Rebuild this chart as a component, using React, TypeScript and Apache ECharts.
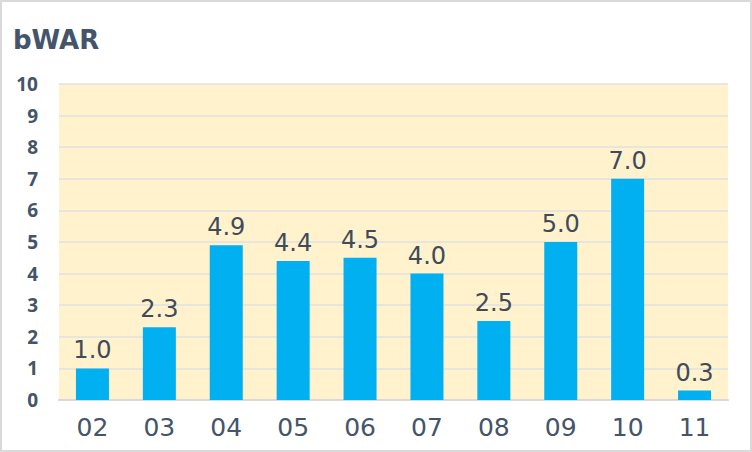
import React, { useEffect, useRef } from "react";
import * as echarts from "echarts";

const categories = ["02", "03", "04", "05", "06", "07", "08", "09", "10", "11"];
const bwarValues = [1.0, 2.3, 4.9, 4.4, 4.5, 4.0, 2.5, 5.0, 7.0, 0.3];
const yTicks = [0, 1, 2, 3, 4, 5, 6, 7, 8, 9, 10];

export default function App() {
  const ref = useRef<HTMLDivElement>(null);
  useEffect(() => {
    document.body.style.margin = "0";
    const chart = echarts.init(ref.current!, null, { renderer: "svg" });
    chart.setOption({
      animation: false,
      backgroundColor: "#ffffff",
      title: {
        text: "bWAR",
        left: 6,
        top: 20,
        textStyle: { fontFamily: "DejaVu Sans", fontSize: 26, fontWeight: "bold", color: "#44546A" },
      },
      grid: { left: 57, right: 22, top: 82, bottom: 50, show: true, backgroundColor: "#FFF2CC", borderWidth: 0 },
      xAxis: {
        type: "category",
        data: categories,
        axisLine: { show: true, lineStyle: { color: "#D9D9D9", width: 2 } },
        axisTick: { show: false },
        axisLabel: { fontFamily: "DejaVu Sans", fontSize: 25, color: "#44546A", margin: 15 },
      },
      yAxis: {
        type: "value",
        min: yTicks[0],
        max: yTicks[yTicks.length - 1],
        interval: 1,
        axisLine: { show: false },
        axisTick: { show: false },
        splitLine: { lineStyle: { color: "#E0E0E0", width: 1.5 } },
        axisLabel: { fontFamily: "Noto Sans", fontSize: 19, fontWeight: "bold", color: "#44546A", margin: 21 },
      },
      series: [
        {
          type: "bar",
          data: bwarValues,
          barWidth: 33,
          itemStyle: { color: "#00B0F0" },
          label: {
            show: true,
            position: "top",
            distance: 6,
            fontFamily: "DejaVu Sans",
            fontSize: 24,
            color: "#404B5A",
            formatter: (p: any) => Number(p.value).toFixed(1),
          },
        },
      ],
    });
    return () => chart.dispose();
  }, []);
  return (
    <div
      ref={ref}
      style={{ width: 752, height: 452, boxSizing: "border-box", border: "2px solid #D9D9D9", position: "absolute", left: 0, top: 0 }}
    />
  );
}
